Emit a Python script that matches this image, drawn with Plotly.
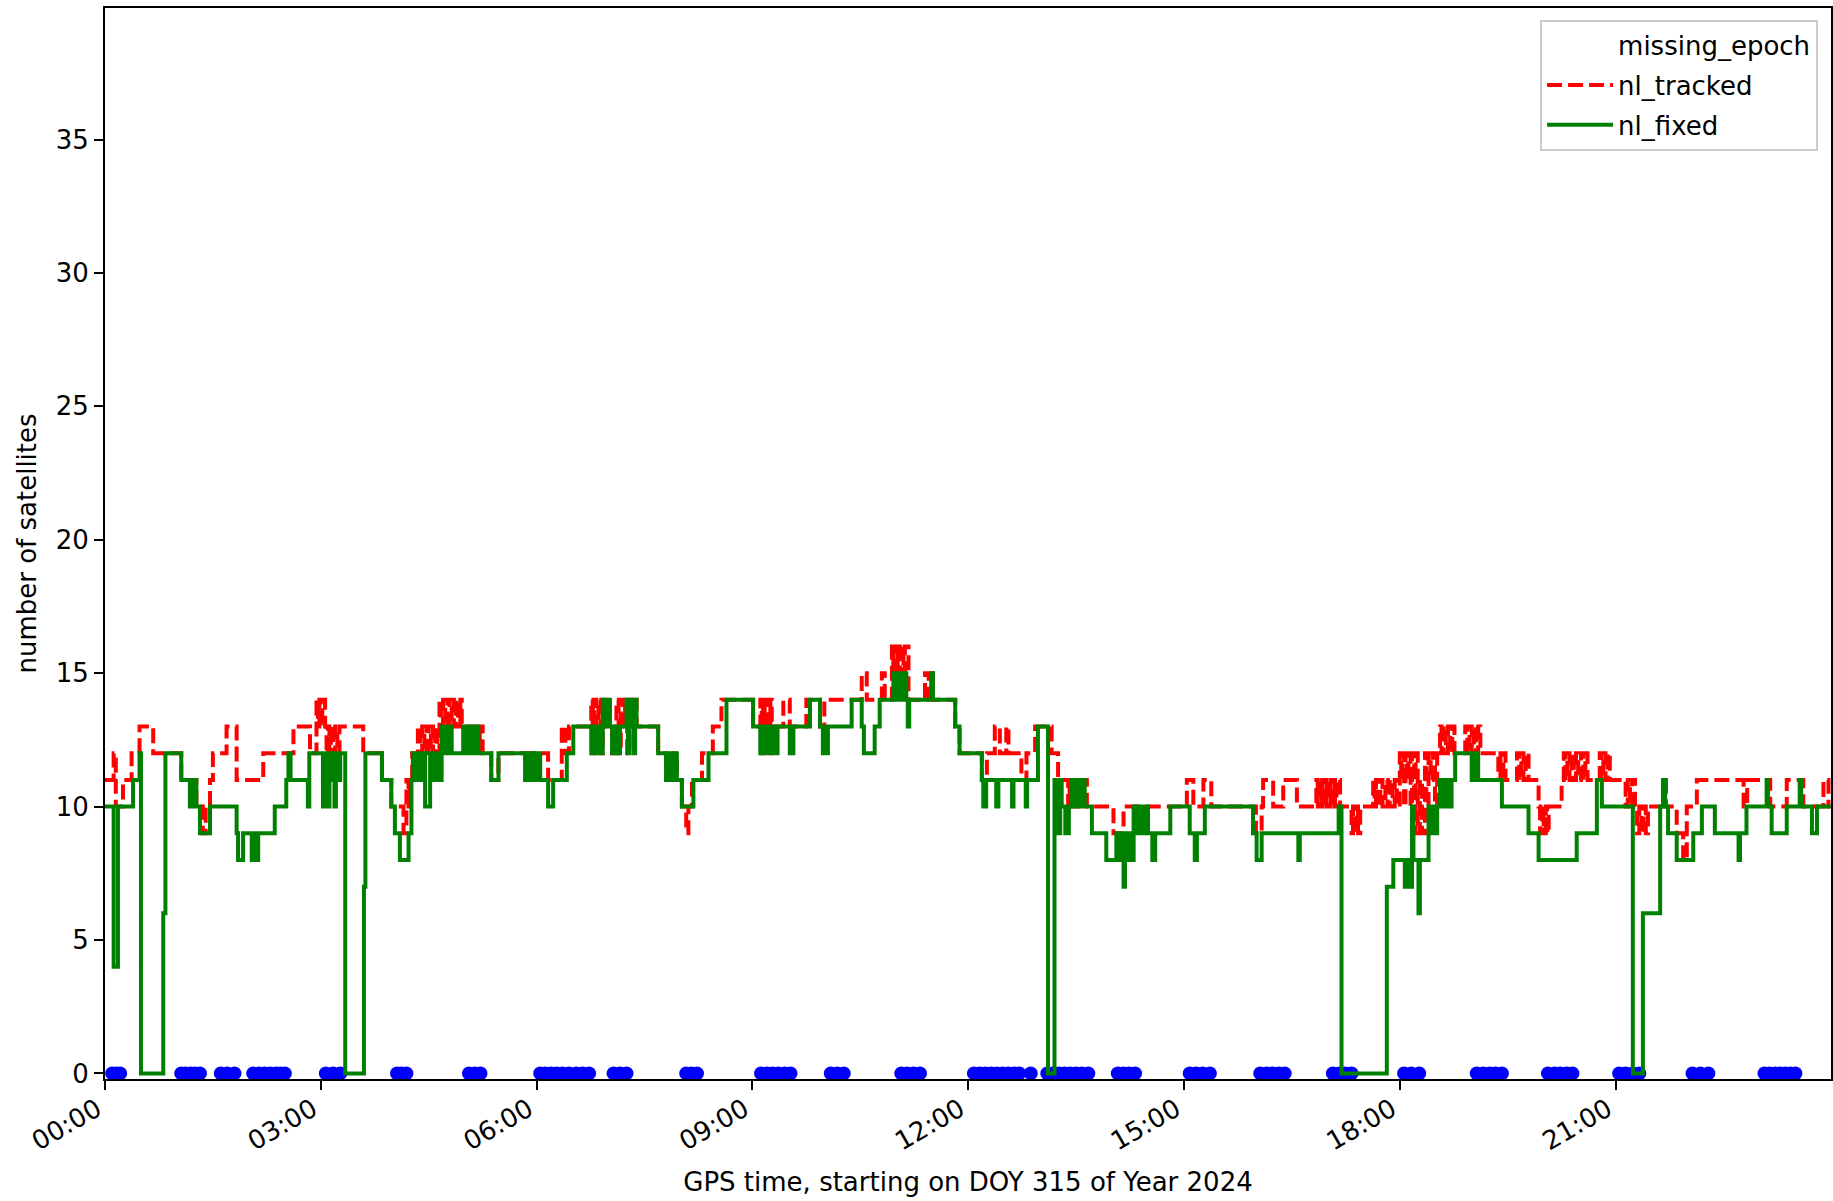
import pandas as pd
import plotly.graph_objects as go

# ---- data (times in hours after 00:00 GPS, DOY 315 of 2024) ----
fixed_t = [0.00,0.12,0.18,0.39,0.48,0.50,0.81,0.84,1.06,1.18,1.20,1.22,1.24,1.27,1.32,1.46,1.83,1.85,1.92,2.04,2.08,2.10,2.13,2.36,2.52,2.55,2.58,2.82,2.84,3.03,3.05,3.10,3.12,3.14,3.19,3.21,3.24,3.27,3.34,3.60,3.62,3.85,3.98,4.03,4.10,4.22,4.26,4.28,4.30,4.32,4.35,4.37,4.40,4.42,4.45,4.52,4.55,4.57,4.60,4.62,4.65,4.68,4.70,4.72,4.74,4.76,4.78,4.80,4.82,4.98,5.00,5.02,5.05,5.07,5.10,5.12,5.15,5.17,5.19,5.37,5.47,5.84,5.86,5.88,5.90,5.92,5.94,5.96,5.98,6.00,6.02,6.05,6.16,6.23,6.42,6.51,6.76,6.78,6.80,6.82,6.84,6.86,6.88,6.92,6.94,6.96,6.98,7.00,7.02,7.05,7.07,7.09,7.11,7.13,7.16,7.25,7.27,7.29,7.31,7.33,7.35,7.37,7.39,7.69,7.80,7.82,7.84,7.86,7.88,7.90,7.95,8.02,8.18,8.39,8.64,9.01,9.11,9.13,9.15,9.18,9.20,9.23,9.26,9.29,9.32,9.35,9.52,9.57,9.80,9.94,9.98,10.00,10.02,10.05,10.38,10.52,10.55,10.70,10.77,10.96,10.99,11.01,11.04,11.06,11.10,11.12,11.14,11.16,11.18,11.49,11.51,11.82,11.88,12.19,12.21,12.25,12.39,12.42,12.61,12.63,12.80,12.82,12.97,13.11,13.20,13.24,13.28,13.30,13.35,13.40,13.44,13.46,13.48,13.50,13.52,13.55,13.58,13.62,13.72,13.92,14.06,14.11,14.13,14.16,14.18,14.20,14.22,14.25,14.27,14.30,14.32,14.35,14.38,14.41,14.44,14.47,14.50,14.56,14.60,14.81,15.08,15.15,15.18,15.29,15.96,16.01,16.08,16.59,16.61,17.15,17.19,17.82,17.91,18.07,18.09,18.11,18.13,18.15,18.17,18.19,18.26,18.28,18.40,18.42,18.44,18.46,18.48,18.50,18.52,18.56,18.58,18.60,18.62,18.64,18.66,18.68,18.70,18.72,18.77,19.00,19.02,19.04,19.06,19.09,19.42,19.79,19.93,20.46,20.74,20.81,21.24,21.38,21.62,21.66,21.69,21.73,21.85,22.08,22.20,22.38,22.71,22.73,22.82,23.10,23.12,23.17,23.38,23.56,23.58,23.73,23.80,23.99]
fixed_v = [10,4,10,11,12,0,6,12,11,10,11,10,11,10,9,10,9,8,9,8,9,8,9,10,11,12,11,10,12,10,12,10,11,12,10,12,11,12,0,7,12,11,10,9,8,9,11,12,11,12,11,12,11,12,10,12,11,12,11,12,11,13,12,13,12,13,12,13,12,13,12,13,12,13,12,13,12,13,12,11,12,11,12,11,12,11,12,11,12,11,12,11,10,11,12,13,12,13,12,13,12,13,12,14,13,14,13,14,13,12,13,12,13,12,13,14,12,14,13,14,12,14,13,12,11,12,11,12,11,12,11,10,11,12,14,13,12,13,12,13,12,13,12,13,12,13,12,13,14,13,12,13,12,13,14,13,12,13,14,15,14,15,14,15,14,15,14,13,14,15,14,13,12,11,10,11,10,11,10,11,10,11,13,0,11,9,11,10,9,10,11,10,11,10,11,10,11,10,9,8,9,8,9,7,8,9,8,9,8,10,9,10,9,10,9,10,9,8,9,10,9,8,9,10,9,8,9,8,9,10,0,7,8,7,8,7,8,7,10,8,6,8,10,9,10,9,10,9,10,11,10,11,10,11,10,11,10,11,12,11,12,11,12,11,10,9,8,9,11,10,0,6,10,11,10,9,8,9,10,9,8,9,10,11,10,9,10,11,10,9,10,10]

tracked_t = [0.00,0.12,0.15,0.25,0.37,0.48,0.67,1.06,1.27,1.36,1.40,1.46,1.50,1.69,1.83,2.20,2.62,2.85,2.94,2.96,2.98,3.00,3.02,3.06,3.08,3.10,3.12,3.14,3.17,3.20,3.23,3.26,3.59,3.85,3.98,4.15,4.19,4.22,4.24,4.27,4.35,4.38,4.41,4.44,4.47,4.50,4.53,4.56,4.59,4.62,4.65,4.67,4.70,4.73,4.76,4.79,4.82,4.85,4.88,4.91,4.94,4.96,5.21,5.23,5.25,5.37,5.47,6.16,6.35,6.40,6.45,6.76,6.78,6.80,6.83,6.86,6.89,6.92,6.95,7.05,7.09,7.11,7.14,7.17,7.20,7.23,7.26,7.29,7.32,7.34,7.39,7.69,7.80,7.83,7.86,7.90,7.95,8.02,8.08,8.11,8.16,8.30,8.45,8.57,9.01,9.11,9.13,9.15,9.17,9.20,9.22,9.25,9.27,9.43,9.52,9.75,9.94,10.00,10.52,10.59,10.80,10.84,10.94,10.96,10.98,11.00,11.02,11.05,11.07,11.10,11.12,11.17,11.40,11.45,11.49,11.51,11.82,11.88,12.19,12.26,12.37,12.44,12.53,12.56,12.74,12.81,12.93,13.16,13.25,13.39,13.41,13.44,13.47,13.50,13.53,13.56,13.59,13.65,14.02,14.16,15.04,15.13,15.27,15.38,16.00,16.08,16.10,16.24,16.38,16.57,16.84,16.86,16.88,16.90,16.92,16.94,16.96,16.98,17.00,17.02,17.04,17.06,17.08,17.10,17.12,17.17,17.33,17.35,17.37,17.40,17.42,17.45,17.63,17.65,17.67,17.70,17.73,17.76,17.80,17.83,17.86,17.90,17.93,17.96,18.00,18.02,18.04,18.06,18.08,18.10,18.12,18.15,18.17,18.20,18.22,18.25,18.28,18.31,18.35,18.37,18.40,18.43,18.46,18.49,18.52,18.56,18.58,18.61,18.64,18.67,18.70,18.73,18.76,18.91,18.94,18.97,19.00,19.03,19.06,19.09,19.12,19.37,19.40,19.42,19.44,19.47,19.63,19.66,19.69,19.72,19.75,19.79,19.93,19.95,19.98,20.00,20.03,20.05,20.07,20.25,20.28,20.30,20.33,20.36,20.39,20.42,20.45,20.48,20.52,20.55,20.58,20.61,20.78,20.80,20.83,20.86,20.89,20.92,21.14,21.17,21.20,21.23,21.27,21.30,21.33,21.36,21.39,21.42,21.45,21.66,21.70,21.85,21.94,21.99,22.13,22.78,22.83,23.15,23.38,23.61,23.89,23.96,23.99]
tracked_v = [11,12,10,11,12,13,12,11,10,9,10,11,12,13,11,12,13,12,14,13,14,13,14,13,12,13,12,13,12,13,12,13,12,11,10,9,11,10,11,12,13,12,13,12,13,12,13,12,13,12,14,13,14,13,14,13,14,13,14,13,14,13,12,13,12,11,12,11,13,12,13,14,12,14,13,14,12,14,13,12,13,14,12,14,13,14,12,14,13,14,13,12,11,12,11,12,11,10,9,10,11,12,13,14,13,14,12,14,13,14,12,14,13,14,13,14,13,14,15,14,15,14,16,15,16,15,16,15,16,15,16,14,15,14,15,14,13,12,11,12,13,12,13,12,11,12,13,12,11,10,11,10,11,10,11,10,11,10,9,10,11,10,11,10,9,10,11,10,11,10,11,10,11,10,11,10,11,10,11,10,11,10,11,10,11,10,9,10,9,10,9,10,11,10,11,10,11,10,11,10,11,10,11,10,12,11,12,10,12,11,12,10,12,9,12,9,11,9,12,10,12,11,12,10,12,13,12,13,12,13,12,13,12,13,12,13,12,13,12,13,12,11,12,11,12,11,12,11,12,11,12,11,10,9,10,9,10,9,10,11,12,11,12,11,12,11,12,11,12,11,12,11,12,11,12,11,12,11,10,11,10,11,10,9,10,9,10,9,10,11,10,9,8,10,11,10,11,10,11,10,11,10,10]

missing_t = [0.10,0.16,0.21,1.06,1.12,1.19,1.25,1.32,1.61,1.70,1.80,2.06,2.14,2.22,2.30,2.38,2.44,2.50,3.07,3.17,3.27,4.06,4.12,4.19,5.06,5.14,5.22,6.05,6.12,6.20,6.28,6.36,6.45,6.55,6.64,6.73,7.07,7.16,7.25,8.08,8.15,8.23,9.12,9.20,9.28,9.36,9.45,9.53,10.09,10.18,10.27,11.07,11.15,11.24,11.33,12.08,12.16,12.24,12.32,12.40,12.48,12.56,12.64,12.71,12.87,13.10,13.18,13.26,13.34,13.42,13.50,13.58,13.67,14.08,14.16,14.24,14.32,15.08,15.17,15.26,15.36,16.06,16.15,16.23,16.32,16.40,17.07,17.16,17.24,17.33,18.06,18.16,18.27,19.07,19.16,19.25,19.33,19.42,20.06,20.15,20.23,20.32,20.40,21.05,21.14,21.24,21.33,22.07,22.18,22.29,23.07,23.14,23.22,23.29,23.36,23.43,23.50]
missing_v = [0] * len(missing_t)

x_tick_labels = ["00:00", "03:00", "06:00", "09:00", "12:00", "15:00", "18:00", "21:00"]
y_ticks = [0, 5, 10, 15, 20, 25, 30, 35]

base = pd.Timestamp("2024-11-10 00:00:00")
def to_time(hours):
    return [base + pd.Timedelta(hours=h) for h in hours]

FONT = "DejaVu Sans, Verdana, sans-serif"
fig = go.Figure()

# legend placeholder for missing_epoch (blank handle, as in reference)
fig.add_trace(go.Scatter(x=[None], y=[None], mode="markers", name="missing_epoch",
                         legendgroup="a",
                         marker=dict(color="rgba(0,0,0,0)", size=1)))
fig.add_trace(go.Scatter(x=to_time(missing_t), y=missing_v, mode="markers",
                         name="missing_epoch", showlegend=False, legendgroup="a",
                         marker=dict(color="#0000ff", size=14, line=dict(width=0))))
fig.add_trace(go.Scatter(x=to_time(tracked_t), y=tracked_v, mode="lines",
                         name="nl_tracked", line_shape="hv", legendgroup="b",
                         line=dict(color="#ff0000", width=4, dash="15px,6px")))
fig.add_trace(go.Scatter(x=to_time(fixed_t), y=fixed_v, mode="lines",
                         name="nl_fixed", line_shape="hv", legendgroup="c",
                         line=dict(color="#008000", width=4)))

tick_vals = [base + pd.Timedelta(hours=3 * i) for i in range(len(x_tick_labels))]

fig.update_layout(
    width=1833, height=1201,
    margin=dict(l=105, r=2, t=8, b=122),
    paper_bgcolor="white", plot_bgcolor="white",
    font=dict(family=FONT, size=26, color="black"),
    showlegend=True,
    legend=dict(x=0.9925, y=0.989, xanchor="right", yanchor="top",
                bgcolor="rgba(255,255,255,0.8)", bordercolor="#cccccc", borderwidth=2,
                font=dict(family=FONT, size=26), tracegroupgap=3, itemwidth=66,
                traceorder="grouped"),
)
fig.update_xaxes(
    type="date",
    range=[base, base + pd.Timedelta(hours=23.995)],
    tickmode="array", tickvals=tick_vals, ticktext=x_tick_labels,
    tickangle=-30, ticklabelshift=-8, ticklabelstandoff=-6,
    showgrid=False, zeroline=False,
    showline=True, linecolor="black", linewidth=2, mirror=True,
    ticks="outside", ticklen=9, tickwidth=2, tickcolor="black",
    title=dict(text="GPS time, starting on DOY 315 of Year 2024", standoff=18,
               font=dict(family=FONT, size=26)),
    automargin=False,
)
fig.update_yaxes(
    range=[-0.21, 39.93],
    tickmode="array", tickvals=y_ticks, ticktext=[str(v) for v in y_ticks],
    showgrid=False, zeroline=False,
    showline=True, linecolor="black", linewidth=2, mirror=True,
    ticks="outside", ticklen=9, tickwidth=2, tickcolor="black",
    title=dict(text="number of satellites", standoff=12,
               font=dict(family=FONT, size=26)),
    automargin=False,
)

fig.write_html("out.html",
               config={"displayModeBar": False},
               post_script="document.body.style.margin='0px';document.body.style.overflow='hidden';")
